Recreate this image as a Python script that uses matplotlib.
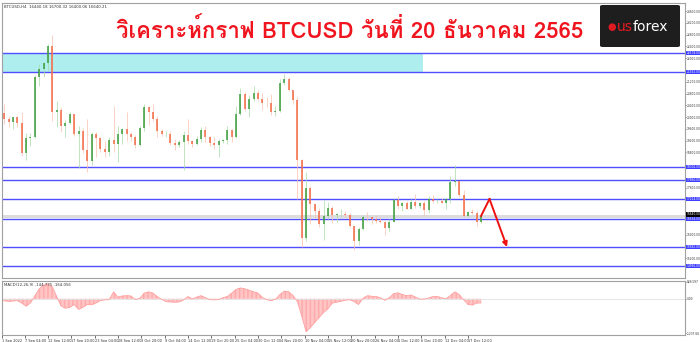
import matplotlib
matplotlib.use('Agg')
import numpy as np
import pandas as pd
import matplotlib.pyplot as plt
from matplotlib import font_manager, ft2font
from matplotlib.patches import Rectangle, FancyBboxPatch

# BTCUSD daily prices, 1 Sep 2022 .. 20 Dec 2022
START = '2022-09-01'
FIRST_OPEN = 20050
CLOSE = [20130, 19950, 19830, 19990, 19800, 18790, 19290, 19320, 21360, 21650,
         21830, 22400, 20170, 20230, 19700, 19800, 20110, 19420, 19540, 18880,
         18490, 19410, 19290, 18920, 18800, 19230, 19080, 19420, 19590, 19420,
         19310, 19060, 19630, 20340, 20160, 19950, 19530, 19420, 19440, 19130,
         19060, 19150, 19380, 19180, 19070, 19260, 19550, 19330, 19120, 19040,
         19170, 19210, 19570, 19330, 20090, 20770, 20290, 20600, 20810, 20630,
         20490, 20480, 20160, 20200, 21150, 21300, 20910, 20590, 18550, 15880,
         17590, 17040, 16800, 16350, 16620, 16900, 16660, 16690, 16700, 16670,
         16280, 15790, 16190, 16610, 16600, 16520, 16460, 16440, 16220, 16440,
         17170, 16970, 17090, 16890, 17110, 16970, 17090, 16840, 17220, 17130,
         17130, 17090, 17210, 17780, 17810, 17360, 16630, 16780, 16740, 16440,
         16640]
HIGH = [20200, 20440, 20050, 20000, 20050, 20180, 19460, 19450, 21440, 21790,
        21860, 22480, 22790, 20530, 20330, 19890, 20180, 20100, 19680, 19630,
        19950, 19490, 19480, 19310, 19180, 19310, 20380, 19700, 19640, 20180,
        19480, 19400, 19700, 20460, 20360, 20440, 20050, 19610, 19520, 19530,
        19250, 19220, 19510, 19930, 19220, 19350, 19650, 19680, 19350, 19330,
        19240, 19250, 19690, 19600, 20390, 21000, 20850, 20740, 21060, 20920,
        20830, 20680, 20780, 20390, 21300, 21470, 21360, 20900, 20670, 18580,
        18130, 17640, 17040, 16900, 17170, 17100, 16980, 16740, 16870, 16800,
        16740, 16300, 16260, 16670, 16780, 16600, 16670, 16590, 16480, 16530,
        17220, 17310, 17100, 17150, 17200, 17400, 17110, 17130, 17300, 17350,
        17210, 17260, 17240, 18000, 18370, 17830, 17530, 16800, 16860, 16820,
        16700]
LOW = [19560, 19750, 19650, 19600, 19650, 18680, 18540, 19010, 19300, 21060,
       21360, 21560, 19880, 19650, 19500, 19330, 19750, 19370, 18270, 18790,
       18130, 18360, 18640, 18820, 18640, 18680, 18820, 18480, 19100, 19200,
       19170, 18960, 19000, 19510, 19740, 19860, 19330, 19350, 19320, 19060,
       18880, 18990, 18190, 19080, 18980, 19060, 19160, 19140, 19000, 18900,
       18650, 19110, 19070, 19160, 19300, 20060, 20220, 20010, 20560, 20530,
       20250, 20350, 20060, 20050, 20180, 21080, 20890, 20440, 17200, 15590,
       15800, 16380, 16580, 16250, 15820, 16540, 16400, 16420, 16600, 16560,
       16250, 15480, 15640, 16170, 16480, 16360, 16410, 16400, 16000, 16120,
       16430, 16880, 16800, 16870, 16880, 16900, 16910, 16680, 16740, 17090,
       17090, 17070, 16870, 17080, 17660, 17280, 16590, 16590, 16700, 16300,
       16400]

# MACD(12,26,9) main line, one value per day
MACD = [-60, -70, -90, -80, -60, -150, -260, -150, 100, 350,
        480, 520, 420, 80, -250, -330, -300, -200, -370, -300,
        -200, -210, -150, -60, -40, -30, 245, 60, 100, 110,
        100, -30, 20, 200, 245, 200, 80, -20, -100, -110,
        -120, -110, -40, 80, 0, 60, 110, 40, -30, -40,
        -30, 40, 80, 200, 330, 380, 350, 300, 245, 200,
        55, -30, -65, -20, 150, 270, 250, 120, -100, -600,
        -1150, -1000, -820, -650, -480, -350, -150, -120, -90, -50,
        -35, -100, -200, 20, 110, 90, 80, 40, -55, 40,
        180, 210, 150, 110, 135, 60, -10, -10, 30, 80,
        80, 40, 0, 120, 245, 150, -35, -200, -220, -150,
        -145]

LEVELS = [22178, 21532, 18302, 17860, 17214, 16534, 15582, 14936]
ZONE_LOW, ZONE_HIGH, ZONE_END = 21532, 22178, '2022-12-07 07:00'

TICK_TIMES = ['2022-09-07 04:00', '2022-09-12 12:00', '2022-09-17 20:00', '2022-09-23 04:00',
              '2022-09-28 12:00', '2022-10-03 20:00', '2022-10-09 04:00', '2022-10-14 12:00',
              '2022-10-19 20:00', '2022-10-25 04:00', '2022-10-30 12:00', '2022-11-04 20:00',
              '2022-11-10 04:00', '2022-11-15 12:00', '2022-11-20 20:00', '2022-11-26 04:00',
              '2022-12-01 12:00', '2022-12-06 20:00', '2022-12-12 04:00', '2022-12-17 12:00']

ARROW_TIMES = ['2022-12-20 12:00', '2022-12-22 10:00', '2022-12-26 10:00']
ARROW_PRICES = [16640, 17214, 15582]

TITLE = 'วิเคราะห์กราฟ BTCUSD วันที่ 20 ธันวาคม 2565'


def day_of(t):
    return (pd.Timestamp(t) - pd.Timestamp(START)) / pd.Timedelta('1D')


def find_font(codepoint):
    for f in font_manager.fontManager.ttflist:
        try:
            if codepoint in ft2font.FT2Font(f.fname).get_charmap():
                return f.name
        except Exception:
            pass
    return 'DejaVu Sans'


W, H = 700, 342
fx = lambda px: px / W
fy = lambda py: 1 - py / H
LBL = 2.1  # MT4 axis labels are tiny

fig = plt.figure(figsize=(W / 100, H / 100), dpi=100)
fig.patch.set_facecolor('white')
ax = fig.add_axes([fx(2), fy(278), fx(685) - fx(2), fy(3) - fy(278)])
ax2 = fig.add_axes([fx(2), fy(335), fx(685) - fx(2), fy(281) - fy(335)])

x = np.arange(len(CLOSE)) + 0.5
close = np.array(CLOSE, dtype=float)
high = np.array(HIGH, dtype=float)
low = np.array(LOW, dtype=float)
opens = np.concatenate([[FIRST_OPEN], close[:-1]])
up = close >= opens

# zone + levels
ax.add_patch(Rectangle((0, ZONE_LOW), day_of(ZONE_END), ZONE_HIGH - ZONE_LOW,
                       facecolor='#afeeee', edgecolor='none', zorder=0))
ax.axhline(close[-1], color='#dcdcdc', lw=2.2, zorder=0.5)
for lv in LEVELS:
    ax.axhline(lv, color='#4f4fff', lw=1.0, zorder=1)

# candles
ax.vlines(x[up], low[up], high[up], color='#a6d9a6', lw=0.5, zorder=2)
ax.vlines(x[~up], low[~up], high[~up], color='#f8bfae', lw=0.5, zorder=2)
ax.vlines(x[up], opens[up], close[up], color='#3c9b3c', lw=1.1, zorder=3)
ax.vlines(x[~up], close[~up], opens[~up], color='#f26a44', lw=1.1, zorder=3)

# forecast arrow
ad = [day_of(t) for t in ARROW_TIMES]
ax.plot(ad[:2], ARROW_PRICES[:2], color='#ee1111', lw=1.4, zorder=5)
ax.annotate('', xy=(ad[2], ARROW_PRICES[2]), xytext=(ad[1], ARROW_PRICES[1]),
            arrowprops=dict(arrowstyle='-|>', color='#ee1111', lw=1.4,
                            mutation_scale=7, shrinkA=0, shrinkB=0), zorder=5)

xmin, xmax = 1.0, 157.1
ax.set_xlim(xmin, xmax)
ax.set_ylim(14528, 23878)
ax.yaxis.tick_right()
yt = [v for v in range(14800, 23700, 400)
      if min(abs(v - lv) for lv in LEVELS + [close[-1]]) > 170]
ax.set_yticks(yt)
ax.set_yticklabels(['%.2f' % v for v in yt])
ax.tick_params(axis='y', labelsize=LBL, length=1, pad=0.5, width=0.5, colors='#333333')
ax.set_xticks([])
for s in ax.spines.values():
    s.set_color('#a0a0a0')
    s.set_linewidth(0.8)

ytr = ax.get_yaxis_transform()
for lv in LEVELS:
    ax.text(1.002, lv, '%.2f' % lv, transform=ytr, fontsize=LBL, color='white',
            va='center', ha='left', clip_on=False,
            bbox=dict(boxstyle='square,pad=0.15', facecolor='#3f3fff', edgecolor='none'))
ax.text(1.002, close[-1] + 60, '%.2f' % close[-1], transform=ytr, fontsize=LBL, color='white',
        va='center', ha='left', clip_on=False,
        bbox=dict(boxstyle='square,pad=0.15', facecolor='black', edgecolor='none'))

ax.text(0.003, 0.994, 'BTCUSD,H4  16440.18 16700.32 16400.06 16640.21', transform=ax.transAxes,
        fontsize=2.8, color='#333333', va='top', ha='left')

# MACD panel
m = np.array(MACD, dtype=float)
ax2.axhline(0, color='#e0e0e0', lw=0.6)
ax2.fill_between(x, 0, m, color='#ffc4c4', lw=0, hatch='||||', edgecolor='#ffaaaa')
ax2.plot(x, m, color='#ff9a9a', lw=0.5)
ax2.set_xlim(xmin, xmax)
ax2.set_ylim(-1260, 620)
ax2.yaxis.tick_right()
ax2.set_yticks([600, 0, -1200])
ax2.set_yticklabels(['826.597', '0.00', '-1237.66'])
ax2.tick_params(axis='y', labelsize=LBL, length=1, pad=0.5, width=0.5, colors='#333333')
ax2.text(0.003, 0.96, 'MACD(12,26,9) -144.775 -164.056', transform=ax2.transAxes,
         fontsize=2.8, color='#333333', va='top', ha='left')
tk = [xmin] + [day_of(t) for t in TICK_TIMES]
tl = ['1 Sep 2022'] + [pd.Timestamp(t).strftime('%-d %b %H:%M') for t in TICK_TIMES]
ax2.set_xticks(tk)
ax2.set_xticklabels(tl, ha='left')
ax2.tick_params(axis='x', labelsize=2.5, length=2, pad=1, width=0.5, colors='#333333')
for s in ax2.spines.values():
    s.set_color('#a0a0a0')
    s.set_linewidth(0.8)

# title and logo
thai = find_font(0x0E27)
fig.text(fx(350), fy(30), TITLE, ha='center', va='center', fontsize=16,
         fontweight='bold', color='#f0141e', family=[thai, 'DejaVu Sans'])
fig.add_artist(FancyBboxPatch((fx(600), fy(47)), fx(80), fy(5) - fy(47),
                              boxstyle='round,pad=0,rounding_size=0.004',
                              transform=fig.transFigure, facecolor='#1e1e1e', edgecolor='none'))
fig.text(fx(612), fy(27), '●', ha='center', va='center', fontsize=7, color='#e01b22')
fig.text(fx(617), fy(27), 'us', ha='left', va='center', fontsize=10, color='#e01b22')
fig.text(fx(633), fy(27), 'forex', ha='left', va='center', fontsize=10, color='white')

fig.savefig('out.png', dpi=100, facecolor='white')
